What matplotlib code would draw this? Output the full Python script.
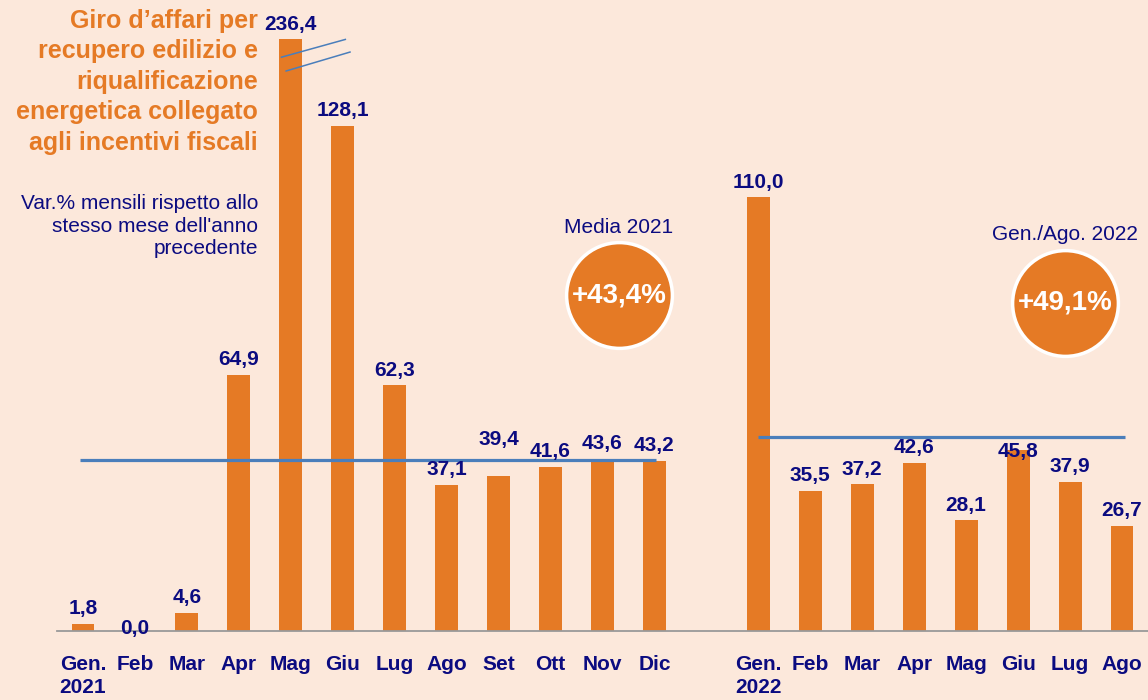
import matplotlib.pyplot as plt
import numpy as np

plt.rcParams['font.family'] = ['Liberation Sans', 'DejaVu Sans']

months_2021 = ['Gen.\n2021', 'Feb', 'Mar', 'Apr', 'Mag', 'Giu', 'Lug', 'Ago', 'Set', 'Ott', 'Nov', 'Dic']
values_2021 = [1.8, 0.0, 4.6, 64.9, 236.4, 128.1, 62.3, 37.1, 39.4, 41.6, 43.6, 43.2]
months_2022 = ['Gen.\n2022', 'Feb', 'Mar', 'Apr', 'Mag', 'Giu', 'Lug', 'Ago']
values_2022 = [110.0, 35.5, 37.2, 42.6, 28.1, 45.8, 37.9, 26.7]
avg_2021 = 43.4
avg_2022 = 49.1
avg_titles = ['Media 2021', 'Gen./Ago. 2022']

bg = '#FCE8DB'
orange = '#E57A25'
navy = '#0B0B80'
blue = '#4A7EBB'

y_cap = 150  # bars above this are cut (Mag 2021)

x21 = np.arange(len(values_2021))
x22 = np.arange(len(values_2022)) + len(values_2021) + 1

fig = plt.figure(figsize=(11.48, 7), dpi=100, facecolor=bg)
ax = fig.add_axes([57 / 1148, 69 / 700, 1091 / 1148, 631 / 700])
ax.set_facecolor(bg)
ax.set_xlim(-0.5, 20.5)
ax.set_ylim(0, 160)

xs = np.concatenate([x21, x22])
vals = np.array(values_2021 + values_2022)
ax.bar(xs, np.minimum(vals, y_cap), width=0.44, color=orange, zorder=2)

# average lines
ax.hlines(avg_2021, x21[0] - 0.05, x21[-1] + 0.03, color=blue, lw=2.3, zorder=3)
ax.hlines(avg_2022, x22[0], x22[-1] + 0.05, color=blue, lw=2.3, zorder=3)

# value labels (some were moved by hand in the original)
nudge = {1: -9, 8: 15, 17: -12}
for i, (x, v) in enumerate(zip(xs, vals)):
    ax.annotate(f'{v:.1f}'.replace('.', ','), (x, min(v, y_cap)),
                xytext=(0, 4 + nudge.get(i, 0)), textcoords='offset points',
                ha='center', va='bottom', fontsize=15, fontweight='bold',
                color=navy, zorder=5)

# break marks on the cut bar
im = int(np.argmax(values_2021))
ax.plot([im - 0.18, im + 1.05], [y_cap - 4.5, y_cap], color=blue, lw=1.1, zorder=4)
ax.plot([im - 0.09, im + 1.14], [y_cap - 8, y_cap - 3.2], color=blue, lw=1.1, zorder=4)

# axes styling
for s in ['top', 'right', 'left']:
    ax.spines[s].set_visible(False)
ax.spines['bottom'].set_color('#999999')
ax.spines['bottom'].set_linewidth(1.3)
ax.set_yticks([])
ax.set_xticks(xs)
ax.set_xticklabels(months_2021 + months_2022, fontsize=15, fontweight='bold', color=navy)
ax.tick_params(axis='x', length=0, pad=17)
for t in ax.get_xticklabels():
    t.set_linespacing(1.32)

# average bubbles
avgs = [avg_2021, avg_2022]
for (cx, cy), title, a in zip([(0.515, 0.532), (0.924, 0.520)], avg_titles, avgs):
    ax.scatter([cx], [cy], s=5800, color=orange, edgecolors='white', linewidths=2.5,
               transform=ax.transAxes, zorder=6, clip_on=False)
    ax.text(cx, cy, f'+{a:.1f}%'.replace('.', ','), transform=ax.transAxes,
            ha='center', va='center', fontsize=20, fontweight='bold', color='white', zorder=7)
    ax.text(cx, cy + 0.108, title, transform=ax.transAxes, ha='center', va='center',
            fontsize=15, color=navy, zorder=7)

# titles
fig.text(258 / 1148, 1 - 9 / 700,
         "Giro d\u2019affari per\nrecupero edilizio e\nriqualificazione\nenergetica collegato\nagli incentivi fiscali",
         ha='right', va='top', fontsize=18, fontweight='bold', color=orange, linespacing=1.34)
fig.text(258 / 1148, 1 - 194 / 700,
         "Var.% mensili rispetto allo\nstesso mese dell'anno\nprecedente",
         ha='right', va='top', fontsize=15, color=navy, linespacing=1.25)

fig.savefig('out.png', dpi=100, facecolor=bg)
